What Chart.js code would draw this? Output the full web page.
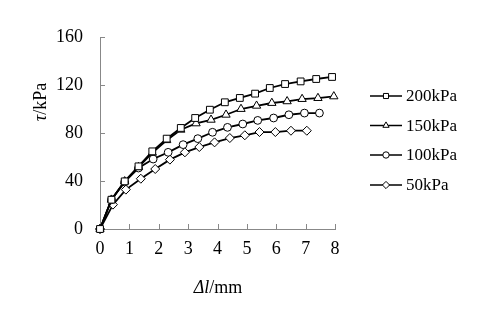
<!DOCTYPE html>
<html><head><meta charset="utf-8">
<script src="https://cdn.jsdelivr.net/npm/chart.js@4/dist/chart.umd.min.js"></script>
<style>html,body{margin:0;padding:0;background:#fff}#wrap{width:480px;height:323px}</style>
</head><body><div id="wrap"><canvas id="c" width="480" height="323"></canvas></div>
<script>
const seriesNames = ['200kPa','150kPa','100kPa','50kPa'];
const x200 = [0,0.39,0.84,1.31,1.78,2.27,2.75,3.24,3.74,4.25,4.76,5.28,5.78,6.3,6.83,7.36,7.9];
const y200 = [0,24.4,39.7,52.2,64.7,75.3,84.2,92.5,99.4,105.6,109.2,112.8,117.5,120.8,123,125,126.7];
const x150 = [0,0.39,0.84,1.31,1.78,2.27,2.75,3.27,3.78,4.29,4.8,5.33,5.85,6.37,6.88,7.42,7.96];
const y150 = [0,24.4,39.7,51.5,63.5,74,82.7,88,91,95.2,100,102.7,105,106.4,108.3,109.1,110.5];
const x100 = [0,0.39,0.84,1.31,1.81,2.32,2.83,3.33,3.83,4.34,4.86,5.37,5.91,6.43,6.96,7.47];
const y100 = [0,24.4,39.2,50.8,58.3,63.9,70.3,75.3,80.6,84.7,87.5,90.5,92.5,95.2,96.6,96.6];
const x50 = [0,0.44,0.88,1.39,1.88,2.38,2.89,3.38,3.9,4.42,4.93,5.43,5.97,6.5,7.04];
const y50 = [0,20.3,32.8,41.9,50,57.8,63.9,68.3,72.2,75.8,78.1,80.8,80.8,81.9,81.9];
const xTicks = [0,1,2,3,4,5,6,7,8];
const yTicks = [0,40,80,120,160];

const pts = (xs, ys) => xs.map((x, i) => ({x, y: ys[i]}));
const styles = ['rect','triangle','circle','rectRot'];
const radii = [4.8,4.8,3.9,4.5];
const allData = [pts(x200,y200), pts(x150,y150), pts(x100,y100), pts(x50,y50)];
const FONT = "'Liberation Serif','Times New Roman',serif";

const datasets = allData.map((d, i) => ({
  label: seriesNames[i], data: d, showLine: true, clip: false,
  borderColor: '#000', borderWidth: 1.8, backgroundColor: '#fff',
  pointStyle: styles[i], pointRadius: radii[i], pointBorderWidth: 1,
  pointBorderColor: '#000', pointBackgroundColor: '#fff', tension: 0
}));

const extras = {
  id: 'extras',
  beforeDatasetsDraw(chart) {
    const ctx = chart.ctx, xs = chart.scales.x, ys = chart.scales.y;
    ctx.save();
    ctx.strokeStyle = '#888'; ctx.lineWidth = 1;
    xTicks.forEach(v => { if (v === 0) return; const p = Math.round(xs.getPixelForValue(v)) + 0.5;
      ctx.beginPath(); ctx.moveTo(p, ys.bottom); ctx.lineTo(p, ys.bottom - 5); ctx.stroke(); });
    yTicks.forEach(v => { if (v === 0) return; const p = Math.round(ys.getPixelForValue(v)) + 0.5;
      ctx.beginPath(); ctx.moveTo(xs.left, p); ctx.lineTo(xs.left + 5, p); ctx.stroke(); });
    ctx.restore();
  },
  afterDraw(chart) {
    const ctx = chart.ctx;
    ctx.save();
    ctx.fillStyle = '#000'; ctx.textBaseline = 'middle';
    const f1 = "italic 18px " + FONT, f2 = "18px " + FONT;
    ctx.font = f1; const w1 = ctx.measureText('Δl').width;
    ctx.font = f2; const w2 = ctx.measureText('/mm').width;
    let sx = 218 - (w1 + w2) / 2;
    ctx.textAlign = 'left';
    ctx.font = f1; ctx.fillText('Δl', sx, 288);
    ctx.font = f2; ctx.fillText('/mm', sx + w1, 288);
    ctx.save(); ctx.translate(41, 102); ctx.rotate(-Math.PI / 2);
    ctx.font = f1; const t1 = ctx.measureText('τ').width;
    ctx.font = f2; const t2 = ctx.measureText('/kPa').width;
    let ty = -(t1 + t2) / 2;
    ctx.font = f1; ctx.fillText('τ', ty, 0);
    ctx.font = f2; ctx.fillText('/kPa', ty + t1, 0);
    ctx.restore();
    const ly = [96, 125.5, 155, 185];
    ctx.font = "17px " + FONT;
    datasets.forEach((ds, i) => {
      const y = ly[i];
      ctx.strokeStyle = '#000'; ctx.lineWidth = 1.5;
      ctx.beginPath(); ctx.moveTo(370, y); ctx.lineTo(402, y); ctx.stroke();
      ctx.fillStyle = '#fff'; ctx.lineWidth = 1;
      Chart.helpers.drawPoint(ctx, {pointStyle: ds.pointStyle, rotation: 0, borderWidth: 1, radius: i === 2 ? 3.2 : 3.6}, 386, y);
      ctx.fillStyle = '#000';
      ctx.fillText(seriesNames[i], 406, y + 1);
    });
    ctx.restore();
  }
};

new Chart(document.getElementById('c'), {
  type: 'scatter',
  data: { datasets },
  options: {
    responsive: false, animation: false, devicePixelRatio: 1,
    layout: { padding: { left: 0, right: 145, top: 37, bottom: 0 } },
    plugins: { legend: { display: false }, tooltip: { enabled: false } },
    scales: {
      x: { type: 'linear', min: 0, max: 8,
        afterFit: s => { s.height = 94; },
        afterBuildTicks: s => { s.ticks = xTicks.map(v => ({value: v})); },
        grid: { display: false, drawTicks: false },
        border: { display: true, color: '#888', width: 1 },
        ticks: { color: '#000', padding: 9, font: { family: FONT, size: 18 }, maxRotation: 0 } },
      y: { type: 'linear', min: 0, max: 160,
        afterFit: s => { s.width = 100; },
        afterBuildTicks: s => { s.ticks = yTicks.map(v => ({value: v})); },
        grid: { display: false, drawTicks: false },
        border: { display: true, color: '#888', width: 1 },
        ticks: { color: '#000', padding: 17, font: { family: FONT, size: 18 } } }
    }
  },
  plugins: [extras]
});
</script></body></html>
